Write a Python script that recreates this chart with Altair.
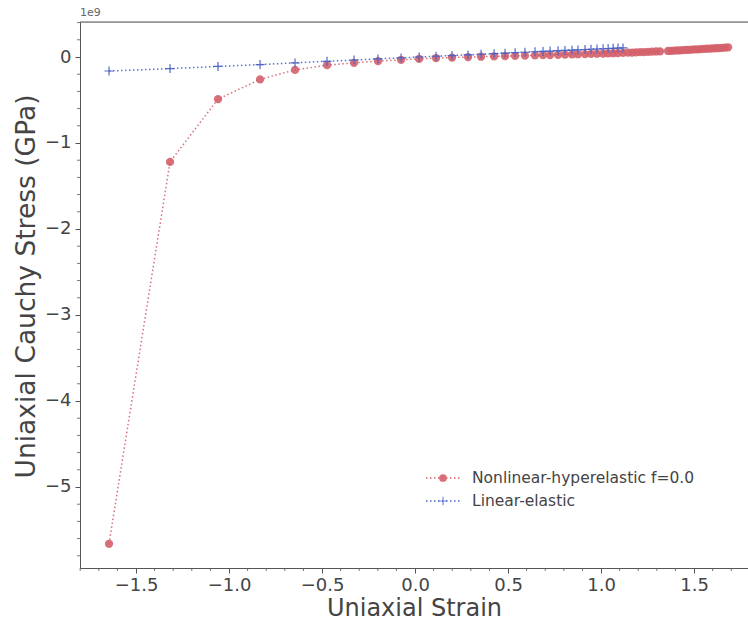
import altair as alt
import pandas as pd

# ---- data ----
strain = [-1.645, -1.317, -1.059, -0.833, -0.645, -0.473, -0.328, -0.199, -0.075, 0.022,
          0.113, 0.199, 0.285, 0.355, 0.425, 0.484, 0.538, 0.591, 0.645, 0.688,
          0.726, 0.769, 0.806, 0.844, 0.876, 0.914, 0.946, 0.978, 1.011, 1.038,
          1.065, 1.091, 1.118, 1.145, 1.167, 1.188, 1.210, 1.231, 1.253, 1.274,
          1.296, 1.317, 1.360, 1.376, 1.392, 1.409, 1.425, 1.441, 1.457, 1.473,
          1.489, 1.505, 1.522, 1.538, 1.554, 1.570, 1.586, 1.602, 1.618, 1.634,
          1.651, 1.667, 1.683]
stress_nonlinear = [-5.66, -1.22, -0.49, -0.26, -0.15, -0.095, -0.068, -0.048, -0.033, -0.022,
                    -0.013, -0.006, -0.001, 0.003, 0.007, 0.010, 0.013, 0.016, 0.019, 0.021,
                    0.023, 0.026, 0.028, 0.030, 0.032, 0.034, 0.036, 0.038, 0.040, 0.042,
                    0.044, 0.046, 0.048, 0.050, 0.052, 0.054, 0.056, 0.058, 0.060, 0.062,
                    0.064, 0.066, 0.070, 0.072, 0.074, 0.076, 0.078, 0.080, 0.082, 0.084,
                    0.086, 0.088, 0.090, 0.092, 0.094, 0.096, 0.098, 0.100, 0.102, 0.104,
                    0.107, 0.110, 0.113]
stress_linear = [-0.163, -0.135, -0.110, -0.088, -0.068, -0.050, -0.035, -0.022, -0.010, 0.000,
                 0.009, 0.017, 0.025, 0.032, 0.039, 0.045, 0.050, 0.055, 0.061, 0.065,
                 0.069, 0.073, 0.076, 0.080, 0.083, 0.087, 0.090, 0.093, 0.096, 0.099,
                 0.101, 0.104, 0.106]
series_names = ["Nonlinear-hyperelastic f=0.0", "Linear-elastic"]
x_ticks = [-1.5, -1.0, -0.5, 0.0, 0.5, 1.0, 1.5]
y_ticks = [-5, -4, -3, -2, -1, 0]
x_minor = [-1.8, -1.7, -1.6, -1.4, -1.3, -1.2, -1.1, -0.9, -0.8, -0.7, -0.6, -0.4, -0.3,
           -0.2, -0.1, 0.1, 0.2, 0.3, 0.4, 0.6, 0.7, 0.8, 0.9, 1.1, 1.2, 1.3, 1.4, 1.6, 1.7]
y_minor = [-5.8, -5.6, -5.4, -5.2, -4.8, -4.6, -4.4, -4.2, -3.8, -3.6, -3.4, -3.2,
           -2.8, -2.6, -2.4, -2.2, -1.8, -1.6, -1.4, -1.2, -0.8, -0.6, -0.4, -0.2, 0.2, 0.4]

RED = "#d4606a"
BLUE = "#4a62c8"
FONT = "DejaVu Sans"
TXT = "#444444"
W, H = 668, 546

df_nl = pd.DataFrame({"strain": strain, "stress": stress_nonlinear})
df_le = pd.DataFrame({"strain": strain[:len(stress_linear)], "stress": stress_linear})
df_xm = pd.DataFrame({"v": x_minor})
df_ym = pd.DataFrame({"v": y_minor})

xs = alt.Scale(domain=[-1.801, 1.790], nice=False, zero=False)
ys = alt.Scale(domain=[-5.942, 0.407], nice=False, zero=False)

x_axis = alt.Axis(values=x_ticks, format=".1f", title="Uniaxial Strain", grid=False,
                  labelFontSize=18, titleFontSize=24, labelFont=FONT, titleFont=FONT,
                  labelColor=TXT, titleColor=TXT, titleFontWeight="normal",
                  domainColor="#555", tickColor="#555", tickSize=5, labelPadding=3,
                  titlePadding=2)
y_axis = alt.Axis(values=y_ticks, format="d", title="Uniaxial Cauchy Stress (GPa)", grid=False,
                  labelFontSize=18, titleFontSize=26.5, labelFont=FONT, titleFont=FONT,
                  labelColor=TXT, titleColor=TXT, titleFontWeight="normal",
                  domainColor="#555", tickColor="#555", tickSize=5, labelPadding=4,
                  titlePadding=4, titleY=264)

X = alt.X("strain:Q", scale=xs, axis=x_axis)
Y = alt.Y("stress:Q", scale=ys, axis=y_axis)

plus_path = "M-1,0H1M0,-1V1"

nl_line = alt.Chart(df_nl).mark_line(color=RED, strokeDash=[1.5, 2.5], strokeWidth=1.5,
                                     opacity=0.9).encode(x=X, y=Y)
nl_pts = alt.Chart(df_nl).mark_point(shape="circle", filled=True, color=RED, size=68,
                                     opacity=0.9).encode(x=X, y=Y)
le_line = alt.Chart(df_le).mark_line(color=BLUE, strokeDash=[1.5, 2.5], strokeWidth=1.5,
                                     opacity=0.9).encode(x=X, y=Y)
le_pts = alt.Chart(df_le).mark_point(shape=plus_path, filled=False, color=BLUE, size=80,
                                     strokeWidth=1.2, opacity=0.95).encode(x=X, y=Y)

xminor = alt.Chart(df_xm).mark_rule(color="#555", strokeWidth=0.8).encode(
    x=alt.X("v:Q", scale=xs), y=alt.value(H), y2=alt.value(H + 3))
yminor = alt.Chart(df_ym).mark_rule(color="#555", strokeWidth=0.8).encode(
    y=alt.Y("v:Q", scale=ys), x=alt.value(0), x2=alt.value(-3))

top_spine = alt.Chart(pd.DataFrame({"a": [0]})).mark_rule(color="#555", strokeWidth=1).encode(
    x=alt.value(0), x2=alt.value(W), y=alt.value(0))

offset_txt = alt.Chart(pd.DataFrame({"t": ["1e9"]})).mark_text(
    align="left", baseline="bottom", fontSize=11, font=FONT, color="#666").encode(
    x=alt.value(0), y=alt.value(-4), text="t:N")

# manual legend
leg = []
rows_y = [456, 479]
colors = [RED, BLUE]
for i, name in enumerate(series_names):
    d = pd.DataFrame({"name": [name]})
    leg.append(alt.Chart(d).mark_rule(color=colors[i], strokeDash=[1.5, 2.5], strokeWidth=1.5).encode(
        x=alt.value(346), x2=alt.value(380), y=alt.value(rows_y[i])))
    if i == 0:
        leg.append(alt.Chart(d).mark_point(shape="circle", filled=True, color=RED, size=60,
                                           opacity=0.9).encode(x=alt.value(363), y=alt.value(rows_y[i])))
    else:
        leg.append(alt.Chart(d).mark_point(shape=plus_path, filled=False, color=BLUE, size=70,
                                           strokeWidth=1.2).encode(x=alt.value(363), y=alt.value(rows_y[i])))
    leg.append(alt.Chart(d).mark_text(align="left", baseline="middle", fontSize=15.5, font=FONT,
                                      color=TXT).encode(x=alt.value(392), y=alt.value(rows_y[i]),
                                                        text="name:N"))

chart = alt.layer(nl_line, nl_pts, le_line, le_pts, xminor, yminor, top_spine, offset_txt, *leg).properties(
    width=W, height=H,
    autosize=alt.AutoSizeParams(type="none"),
    padding={"left": 80, "top": 22, "right": 0, "bottom": 58},
).configure_view(stroke=None).configure(background="white")

chart.save("out.html", embed_options={"renderer": "svg", "actions": False})
